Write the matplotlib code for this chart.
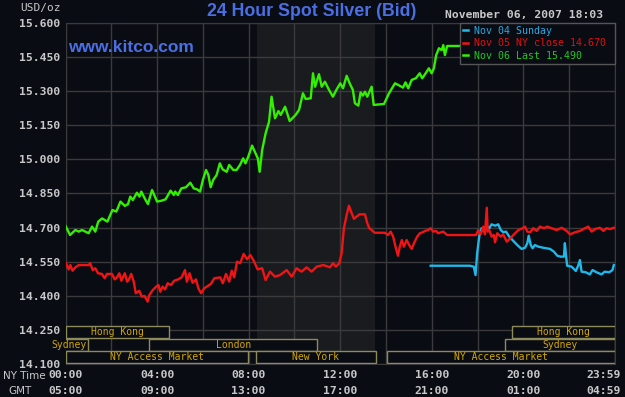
import matplotlib
matplotlib.use("Agg")
import matplotlib.pyplot as plt
import matplotlib.transforms as mtransforms
from matplotlib.patches import Rectangle
from matplotlib.lines import Line2D
import numpy as np

# hours since 00:00 NY time, price in USD/oz
nov06_t = [0.0, 0.2, 0.43, 0.58, 0.72, 1.01, 1.16, 1.3, 1.43, 1.6, 1.83, 2.05, 2.22, 2.4, 2.59,
           2.73, 2.83, 2.94, 3.12, 3.23, 3.31, 3.46, 3.6, 3.78, 4.0, 4.2, 4.37, 4.59, 4.73, 4.79,
           4.91, 5.06, 5.26, 5.45, 5.6, 5.74, 5.88, 6.0, 6.14, 6.24, 6.34, 6.45, 6.6, 6.74, 6.86,
           7.04, 7.15, 7.33, 7.47, 7.62, 7.76, 7.86, 7.98, 8.15, 8.3, 8.4, 8.48, 8.59, 8.74, 8.89,
           9.0, 9.15, 9.3, 9.4, 9.59, 9.79, 10.05, 10.2, 10.37, 10.49, 10.71, 10.81, 10.9, 11.07,
           11.19, 11.33, 11.51, 11.68, 11.83, 12.0, 12.12, 12.28, 12.41, 12.55, 12.64, 12.79, 12.89,
           12.99, 13.08, 13.18, 13.37, 13.46, 13.91, 14.13, 14.39, 14.53, 14.74, 14.85, 14.97,
           15.12, 15.3, 15.47, 15.58, 15.73, 15.87, 15.99, 16.09, 16.19, 16.31, 16.43, 16.5,
           16.57, 16.67, 17.2, 18.05]
nov06_v = [14.707, 14.667, 14.689, 14.682, 14.689, 14.675, 14.704, 14.682, 14.726, 14.740, 14.726,
           14.777, 14.770, 14.814, 14.795, 14.803, 14.836, 14.821, 14.853, 14.836, 14.858, 14.828,
           14.803, 14.865, 14.814, 14.818, 14.824, 14.862, 14.843, 14.858, 14.843, 14.872, 14.877,
           14.897, 14.872, 14.868, 14.858, 14.909, 14.953, 14.931, 14.877, 14.909, 14.931, 14.982,
           14.956, 14.945, 14.975, 14.953, 14.953, 14.975, 15.004, 14.982, 15.011, 15.060, 15.026,
           15.004, 14.945, 15.041, 15.114, 15.165, 15.275, 15.180, 15.212, 15.195, 15.231, 15.168,
           15.195, 15.217, 15.290, 15.265, 15.268, 15.378, 15.319, 15.374, 15.319, 15.341, 15.305,
           15.275, 15.305, 15.334, 15.312, 15.367, 15.334, 15.305, 15.246, 15.236, 15.294, 15.280,
           15.297, 15.275, 15.319, 15.239, 15.243, 15.290, 15.334, 15.327, 15.315, 15.338, 15.312,
           15.349, 15.356, 15.378, 15.356, 15.378, 15.400, 15.378, 15.400, 15.458, 15.488, 15.480,
           15.502, 15.458, 15.498, 15.498, 15.490]

nov05_t = [0.02, 0.14, 0.21, 0.31, 0.43, 0.58, 1.01, 1.08, 1.19, 1.3, 1.42, 1.59, 1.71, 1.81, 2.03,
           2.15, 2.25, 2.35, 2.44, 2.59, 2.69, 2.76, 2.87, 2.98, 3.07, 3.22, 3.33, 3.45, 3.59, 3.66,
           3.81, 3.96, 4.06, 4.14, 4.24, 4.35, 4.46, 4.6, 4.75, 4.92, 5.07, 5.22, 5.3, 5.42, 5.55,
           5.7, 5.8, 5.92, 6.06, 6.35, 6.5, 6.76, 6.87, 7.01, 7.15, 7.26, 7.37, 7.49, 7.63, 7.78,
           7.93, 8.07, 8.22, 8.39, 8.59, 8.74, 8.93, 9.15, 9.37, 9.66, 9.88, 10.09, 10.31, 10.53,
           10.75, 10.97, 11.26, 11.55, 11.69, 11.81, 11.96, 12.06, 12.16, 12.28, 12.38, 12.5, 12.6,
           12.72, 12.84, 13.08, 13.18, 13.27, 13.37, 13.5, 13.94, 14.09, 14.2, 14.31, 14.43, 14.52,
           14.6, 14.69, 14.78, 14.9, 15.01, 15.12, 15.22, 15.36, 15.48, 15.6, 15.7, 15.84, 15.95,
           16.06, 16.18, 16.28, 16.5, 16.67, 17.93, 18.03, 18.13, 18.25, 18.32, 18.4, 18.44, 18.51,
           18.61, 18.71, 18.76, 18.86, 19.01, 19.12, 19.27, 19.41, 19.59, 19.78, 19.97, 20.07,
           20.17, 20.29, 20.43, 20.58, 20.72, 20.9, 21.04, 21.23, 21.45, 21.67, 21.89, 22.03,
           22.25, 22.47, 22.69, 22.83, 22.98, 23.12, 23.34, 23.49, 23.63, 23.78, 23.95]
nov05_v = [14.543, 14.516, 14.535, 14.510, 14.525, 14.535, 14.535, 14.543, 14.513, 14.521, 14.499,
           14.496, 14.477, 14.496, 14.496, 14.472, 14.481, 14.499, 14.466, 14.499, 14.462, 14.469,
           14.496, 14.462, 14.411, 14.422, 14.396, 14.399, 14.374, 14.403, 14.425, 14.440, 14.447,
           14.418, 14.440, 14.428, 14.455, 14.447, 14.466, 14.472, 14.481, 14.513, 14.462, 14.499,
           14.457, 14.472, 14.433, 14.411, 14.433, 14.452, 14.477, 14.481, 14.455, 14.496, 14.462,
           14.510, 14.481, 14.550, 14.543, 14.584, 14.560, 14.579, 14.554, 14.516, 14.521, 14.469,
           14.506, 14.484, 14.491, 14.513, 14.484, 14.521, 14.506, 14.525, 14.506, 14.528, 14.535,
           14.525, 14.543, 14.528, 14.543, 14.587, 14.697, 14.755, 14.796, 14.763, 14.738, 14.748,
           14.758, 14.758, 14.719, 14.697, 14.689, 14.677, 14.677, 14.667, 14.682, 14.660, 14.609,
           14.576, 14.616, 14.645, 14.616, 14.645, 14.623, 14.606, 14.631, 14.660, 14.675, 14.679,
           14.685, 14.689, 14.697, 14.682, 14.685, 14.675, 14.682, 14.667, 14.667, 14.689, 14.670,
           14.704, 14.670, 14.787, 14.682, 14.689, 14.660, 14.667, 14.635, 14.675, 14.660, 14.670,
           14.638, 14.650, 14.670, 14.689, 14.697, 14.704, 14.682, 14.679, 14.697, 14.685, 14.704,
           14.697, 14.704, 14.697, 14.689, 14.699, 14.685, 14.670, 14.679, 14.685, 14.697, 14.704,
           14.682, 14.693, 14.699, 14.685, 14.697, 14.693, 14.699]

nov04_t = [15.95, 17.66, 17.83, 17.91, 17.98, 18.07, 18.17, 18.27, 18.39, 18.51, 18.61, 18.76, 18.9,
           19.01, 19.12, 19.24, 19.38, 19.56, 19.73, 19.92, 20.07, 20.17, 20.23, 20.32, 20.4, 20.5,
           20.65, 20.87, 21.16, 21.33, 21.48, 21.62, 21.77, 21.81, 21.85, 21.91, 22.1, 22.29,
           22.39, 22.47, 22.54, 22.73, 22.9, 23.02, 23.2, 23.41, 23.55, 23.74, 23.89, 23.95]
nov04_v = [14.532, 14.532, 14.528, 14.491, 14.587, 14.660, 14.697, 14.685, 14.708, 14.697, 14.714,
           14.708, 14.714, 14.689, 14.679, 14.682, 14.660, 14.641, 14.623, 14.606, 14.611, 14.631,
           14.664, 14.623, 14.609, 14.623, 14.616, 14.611, 14.606, 14.594, 14.576, 14.572, 14.572,
           14.631, 14.587, 14.532, 14.528, 14.509, 14.532, 14.557, 14.506, 14.503, 14.494, 14.513,
           14.503, 14.494, 14.506, 14.503, 14.513, 14.535]

legend_labels = ["Nov 04 Sunday", "Nov 05 NY close 14.670", "Nov 06 Last 15.490"]

y_ticks = [14.100, 14.250, 14.400, 14.550, 14.700, 14.850, 15.000, 15.150, 15.300, 15.450, 15.600]
x_label_pos = [0, 4, 8, 12, 16, 20, 23.5]
ny_labels = ["00:00", "04:00", "08:00", "12:00", "16:00", "20:00", "23:59"]
gmt_labels = ["05:00", "09:00", "13:00", "17:00", "21:00", "01:00", "04:59"]

# market sessions: (name, start hour, end hour, row) row 0 = bottom
sessions = [("Hong Kong", 0.0, 4.5, 2), ("Hong Kong", 19.5, 24.0, 2),
            ("Sydney", -0.7, 1.0, 1), ("Sydney", 19.2, 24.0, 1),
            ("London", 3.65, 11.0, 1),
            ("NY Access Market", 0.0, 7.97, 0), ("New York", 8.33, 13.55, 0),
            ("NY Access Market", 14.05, 24.0, 0)]
ny_open = (8.36, 13.51)

bg = "#0a0c14"
grid_c = "#3a3a3c"
txt_c = "#c8c8c8"
blue = "#4a6fe3"
mono = "DejaVu Sans Mono"

fig = plt.figure(figsize=(6.25, 3.97), dpi=100, facecolor=bg)
ax = fig.add_axes([0.1048, 0.0831, 0.8792, 0.8595], facecolor=bg)
ax.set_xlim(0, 24)
ax.set_ylim(14.1, 15.6)

ax.axvspan(ny_open[0], ny_open[1], color="#1a1b1f", zorder=0, lw=0)

ax.set_yticks(y_ticks)
ax.set_yticklabels(["%.3f" % v for v in y_ticks], family=mono, weight="bold",
                   fontsize=8.2, color=txt_c)
ax.set_xticks(x_label_pos)
ax.set_xticklabels([a + "\n" + b for a, b in zip(ny_labels, gmt_labels)], family=mono,
                   weight="bold", fontsize=8.2, color=txt_c, linespacing=1.8)
ax.tick_params(which="both", length=0)
ax.tick_params(axis="y", pad=4)
ax.tick_params(axis="x", pad=4)
ax.grid(False)
for g in np.arange(0, 25, 2):
    ax.axvline(g, color=grid_c, lw=1, zorder=1)
for v in y_ticks:
    ax.axhline(v, color=grid_c, lw=1, zorder=1)
for s in ax.spines.values():
    s.set_color(grid_c)

ax.plot(nov04_t, nov04_v, color="#1fb8e8", lw=1.7, zorder=3)
ax.plot(nov05_t, nov05_v, color="#f01414", lw=1.7, zorder=4)
ax.plot(nov06_t, nov06_v, color="#33f000", lw=1.7, zorder=5)

# session boxes at bottom
trans = mtransforms.blended_transform_factory(ax.transData, ax.transAxes)
row_h = 0.034
row_gap = 0.0365
for name, a, b, row in sessions:
    y0 = 0.003 + row * row_gap
    ax.add_patch(Rectangle((a, y0), b - a, row_h, transform=trans, facecolor=bg,
                           edgecolor="#8d8a5c", lw=1, zorder=6))
    ax.text((a + b) / 2, y0 + row_h / 2, name, transform=trans, ha="center", va="center",
            family=mono, fontsize=7, color="#d2a800", zorder=7, clip_on=False)

handles = [Line2D([], [], color=c, lw=1.8) for c in ["#1fb8e8", "#f01414", "#33f000"]]
leg = ax.legend(handles, legend_labels, loc="upper right",
                bbox_to_anchor=(0.718, 0.888, 0.282, 0.112), mode="expand",
                borderaxespad=0, handlelength=0.5, handletextpad=0.6, labelspacing=0.25,
                borderpad=0.3, fancybox=False, framealpha=1, facecolor=bg,
                edgecolor="#555555", prop={"family": mono, "size": 7.1})
leg.set_zorder(10)
for t, c in zip(leg.get_texts(), ["#2aa8e0", "#e01010", "#22c822"]):
    t.set_color(c)

fig.text(312 / 625, 1 - 12 / 397, "24 Hour Spot Silver (Bid)", ha="center", va="center",
         fontsize=12.8, weight="bold", color=blue, family="Liberation Sans")
fig.text(68 / 625, 1 - 48 / 397, "www.kitco.com", ha="left", va="center",
         fontsize=12.5, weight="bold", color=blue, family="Liberation Sans")
fig.text(603 / 625, 1 - 15 / 397, "November 06, 2007 18:03", ha="right", va="center",
         family=mono, weight="bold", fontsize=8.2, color=txt_c)
fig.text(20 / 625, 1 - 8 / 397, "USD/oz", ha="left", va="center",
         family=mono, fontsize=8, color=txt_c)
fig.text(3 / 625, 1 - 376 / 397, "NY Time", ha="left", va="center",
         fontsize=7.5, color=txt_c)
fig.text(20 / 625, 1 - 391 / 397, "GMT", ha="center", va="center",
         fontsize=7.5, color=txt_c)

fig.savefig("out.png", dpi=100, facecolor=bg)
